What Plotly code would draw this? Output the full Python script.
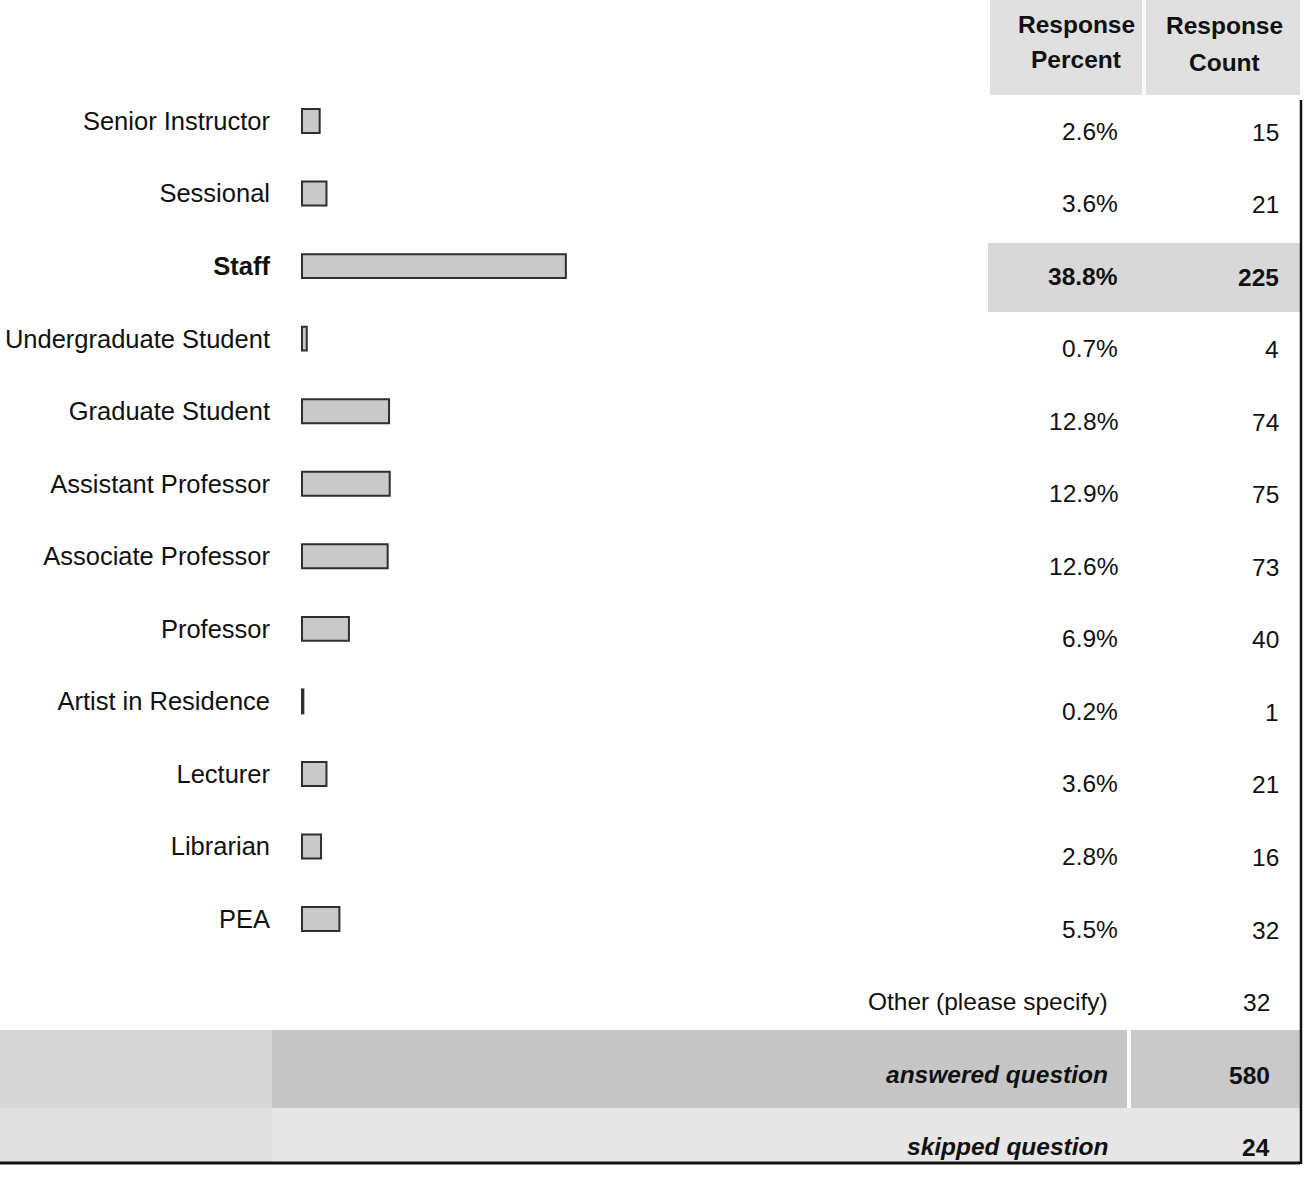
import plotly.graph_objects as go

# ---- data ----
categories = ["Senior Instructor", "Sessional", "Staff", "Undergraduate Student",
              "Graduate Student", "Assistant Professor", "Associate Professor",
              "Professor", "Artist in Residence", "Lecturer", "Librarian", "PEA"]
percents = [2.6, 3.6, 38.8, 0.7, 12.8, 12.9, 12.6, 6.9, 0.2, 3.6, 2.8, 5.5]
counts = [15, 21, 225, 4, 74, 75, 73, 40, 1, 21, 16, 32]
highlight = "Staff"

summary_labels = ["Other (please specify)", "answered question", "skipped question"]
summary_counts = [32, 580, 24]
summary_styles = ["plain", "bolditalic", "bolditalic"]

header_percent = ["Response", "Percent"]
header_count = ["Response", "Count"]

# ---- layout constants (pixels) ----
W, H = 1314, 1184
FONT = "Liberation Sans, Arial, sans-serif"
FS = 24.5
LABEL_FS = 25.5
bar_x0 = 302          # pixel where the bars start
px_per_pct = 6.8
row0_y = 121          # pixel y of first row
row_gap = 72.55
pct_right = 1120
cnt_right = 1281


def px(x):
    return x / W


def py(y):
    return 1 - y / H


n = len(categories)
x_range = [-bar_x0 / px_per_pct, (W - bar_x0) / px_per_pct]
y_top = -row0_y / row_gap
y_bot = (n - 1) + (H - (row0_y + (n - 1) * row_gap)) / row_gap

ticktext = [f"<b>{c}</b>" if c == highlight else c for c in categories]

fig = go.Figure()
fig.add_trace(go.Bar(
    y=categories, x=percents, orientation="h", width=0.33,
    marker=dict(color="#c9c9c9", line=dict(color="#2f2f2f", width=2)),
    hoverinfo="skip", showlegend=False,
))

annotations = []
for i, (c, p, k) in enumerate(zip(categories, percents, counts)):
    b0, b1 = ("<b>", "</b>") if c == highlight else ("", "")
    annotations.append(dict(x=px(pct_right), xref="paper", y=c, yref="y",
                            text=f"{b0}{p}%{b1}", showarrow=False, xanchor="right",
                            yanchor="middle", yshift=-10,
                            font=dict(family=FONT, size=FS, color="#111")))
    annotations.append(dict(x=px(cnt_right), xref="paper", y=c, yref="y",
                            text=f"{b0}{k}{b1}", showarrow=False, xanchor="right",
                            yanchor="middle", yshift=-11,
                            font=dict(family=FONT, size=FS, color="#111")))

for j, (lab, k, st) in enumerate(zip(summary_labels, summary_counts, summary_styles)):
    row = n + j
    if st == "bolditalic":
        t1, t2 = f"<b><i>{lab}</i></b>", f"<b>{k}</b>"
    else:
        t1, t2 = lab, str(k)
    annotations.append(dict(x=px(pct_right - 10), xref="paper", y=row, yref="y",
                            text=t1, showarrow=False, xanchor="right", yanchor="middle",
                            yshift=-10, font=dict(family=FONT, size=FS, color="#111")))
    annotations.append(dict(x=px(cnt_right - 9), xref="paper", y=row, yref="y",
                            text=t2, showarrow=False, xanchor="right", yanchor="middle",
                            yshift=-11, font=dict(family=FONT, size=FS, color="#111")))

for (cx, ys, lines) in [(1076, (24, 60), header_percent), (1224, (26, 62), header_count)]:
    for yy, line in zip(ys, lines):
        annotations.append(dict(x=px(cx), xref="paper", y=py(yy), yref="paper",
                                text=f"<b>{line}</b>", showarrow=False,
                                xanchor="center", yanchor="middle",
                                font=dict(family=FONT, size=FS, color="#111")))


def rect(x0, y0, x1, y1, color):
    return dict(type="rect", xref="paper", yref="paper", x0=px(x0), x1=px(x1),
                y0=py(y1), y1=py(y0), fillcolor=color, line=dict(width=0), layer="below")


shapes = [
    rect(990, 0, 1142, 95, "#e0e0e0"),
    rect(1146, 0, 1300, 95, "#e0e0e0"),
    rect(988, 243, 1300, 312, "#d8d8d8"),
    rect(0, 1030, 272, 1108, "#d6d6d6"),
    rect(272, 1030, 1127, 1108, "#c6c6c6"),
    rect(1131, 1030, 1300, 1108, "#c9c9c9"),
    rect(0, 1108, 272, 1162, "#e0e0e0"),
    rect(272, 1108, 1300, 1162, "#e6e6e6"),
    dict(type="line", xref="paper", yref="paper", x0=px(0), x1=px(1300),
         y0=py(1163), y1=py(1163), line=dict(color="#111", width=3)),
    dict(type="line", xref="paper", yref="paper", x0=px(1301), x1=px(1301),
         y0=py(100), y1=py(1164), line=dict(color="#111", width=2.5)),
]

fig.update_layout(
    width=W, height=H, margin=dict(l=0, r=0, t=0, b=0),
    paper_bgcolor="white", plot_bgcolor="rgba(0,0,0,0)",
    xaxis=dict(range=x_range, domain=[0, 1], visible=False, fixedrange=True),
    yaxis=dict(type="category", categoryorder="array", categoryarray=categories,
               range=[y_bot, y_top], domain=[0, 1], anchor="free", position=px(bar_x0),
               tickmode="array", tickvals=categories, ticktext=ticktext,
               showgrid=False, zeroline=False, showline=False, ticks="",
               ticklabelstandoff=32, fixedrange=True,
               tickfont=dict(family=FONT, size=LABEL_FS, color="#111")),
    annotations=annotations,
    shapes=shapes,
)

fig.write_html("out.html", config={"displayModeBar": False},
               post_script="document.body.style.margin='0';document.body.style.overflow='hidden';")
